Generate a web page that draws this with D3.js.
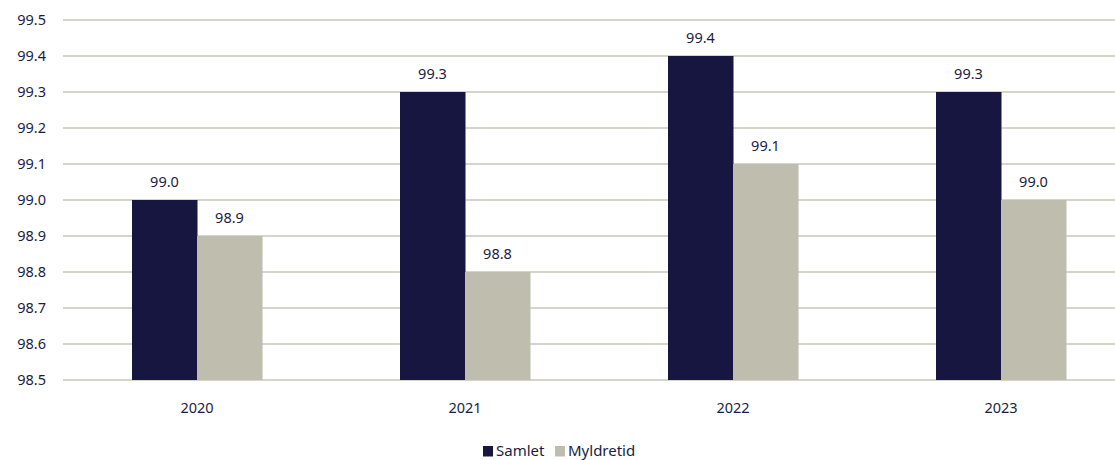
<!DOCTYPE html>
<html><head><meta charset="utf-8">
<script src="https://cdn.jsdelivr.net/npm/d3@7"></script>
<style>body{margin:0;background:#fff;} svg{display:block;font-family:"Noto Sans",sans-serif;}</style>
</head><body>
<svg id="c" width="1115" height="460"></svg>
<script>
const categories = ["2020","2021","2022","2023"];
const seriesNames = ["Samlet","Myldretid"];
const samlet = [99.0, 99.3, 99.4, 99.3];
const myldretid = [98.9, 98.8, 99.1, 99.0];
const yTicks = [98.5,98.6,98.7,98.8,98.9,99.0,99.1,99.2,99.3,99.4,99.5];
const colors = ["#161640","#bfbdae"];
const textColor = "#1c1c40";

const svg = d3.select("#c");
const x = d3.scaleBand().domain(categories).range([63,1135]).paddingInner(0).paddingOuter(0);
const xs = d3.scaleBand().domain(seriesNames).range([0,130]);
const y = d3.scaleLinear().domain([98.5,99.5]).range([380,20]);

// grid
svg.append("g").selectAll("line").data(yTicks).join("line")
  .attr("x1",63).attr("x2",1115)
  .attr("y1",d=>y(d)).attr("y2",d=>y(d))
  .attr("stroke","#c9c7b9").attr("stroke-width",1.3);

// y labels
svg.append("g").selectAll("text").data(yTicks).join("text")
  .attr("x",46).attr("y",d=>y(d)).attr("dy","0.35em")
  .attr("text-anchor","end").attr("font-size",14.5).attr("fill",textColor)
  .text(d=>d.toFixed(1));

const series = [samlet, myldretid];
series.forEach((vals,si)=>{
  const g = svg.append("g");
  g.selectAll("rect").data(vals).join("rect")
    .attr("x",(d,i)=>x(categories[i]) + x.bandwidth()/2 - 65 + xs(seriesNames[si]))
    .attr("width",xs.bandwidth()+0.5)
    .attr("y",d=>y(d)).attr("height",d=>y(98.5)-y(d))
    .attr("fill",colors[si]);
  g.selectAll("text").data(vals).join("text")
    .attr("x",(d,i)=>x(categories[i]) + x.bandwidth()/2 - 65 + xs(seriesNames[si]) + xs.bandwidth()/2)
    .attr("y",d=>y(d)-18).attr("dy","0.35em")
    .attr("text-anchor","middle").attr("font-size",14.5).attr("fill",textColor)
    .text(d=>d.toFixed(1));
});

// x labels
svg.append("g").selectAll("text").data(categories).join("text")
  .attr("x",d=>x(d)+x.bandwidth()/2).attr("y",408).attr("dy","0.35em")
  .attr("text-anchor","middle").attr("font-size",14.5).attr("fill",textColor)
  .text(d=>d);

// legend
const leg = svg.append("g");
const legItems = [{n:"Samlet",x:483},{n:"Myldretid",x:555}];
legItems.forEach((it,i)=>{
  leg.append("rect").attr("x",it.x).attr("y",446).attr("width",10).attr("height",10.5).attr("fill",colors[i]);
  leg.append("text").attr("x",it.x+13).attr("y",451).attr("dy","0.35em")
    .attr("font-size",15).attr("fill",textColor).text(it.n);
});
</script>
</body></html>
